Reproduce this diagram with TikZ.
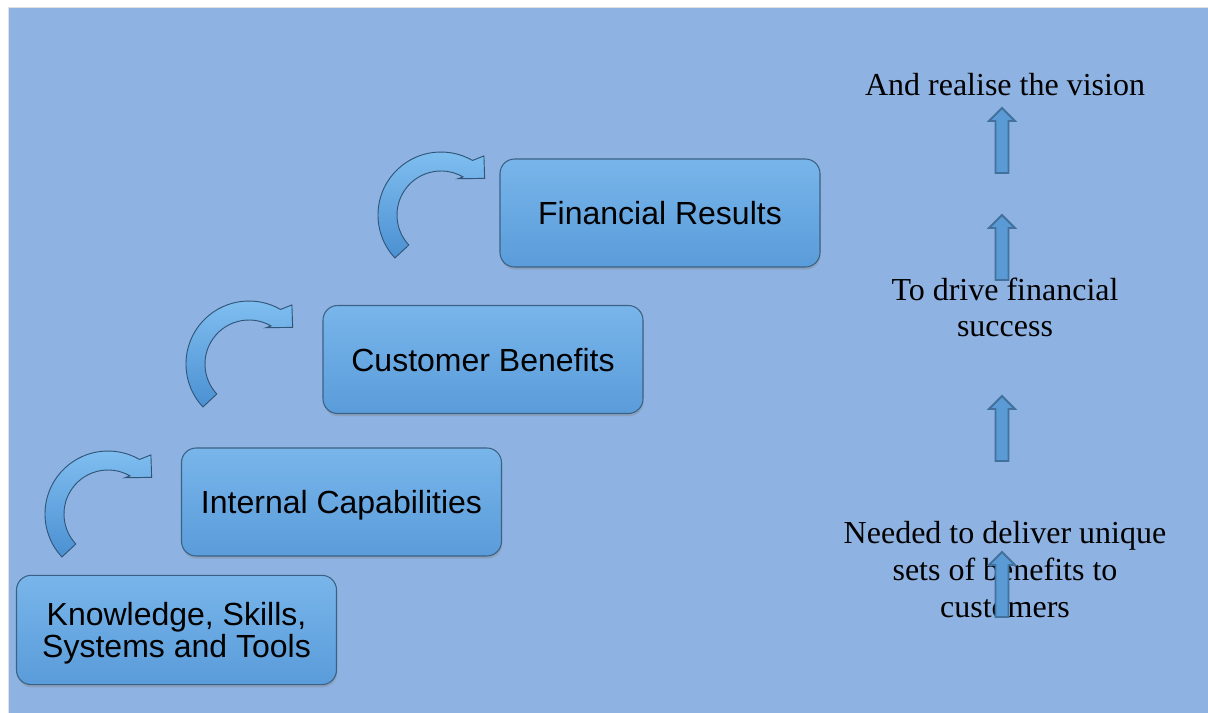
\documentclass[tikz,border=0pt]{standalone}
\usepackage{fontspec}
\setmainfont{Liberation Serif}
\setsansfont{Liberation Sans}
\usetikzlibrary{shadows}

\definecolor{bgblue}{HTML}{8EB2E2}
\definecolor{boxtop}{HTML}{78B5EA}
\definecolor{boxbot}{HTML}{5A9CDA}
\definecolor{boxline}{HTML}{3B6285}
\definecolor{turntop}{HTML}{82C0F1}
\definecolor{turnbot}{HTML}{4B90D2}
\definecolor{turnline}{HTML}{2F5679}
\definecolor{upfill}{HTML}{5B9BD5}
\definecolor{upline}{HTML}{41719C}

\begin{document}
\begin{tikzpicture}[x=0.75pt,y=-0.75pt,
    stage/.style={draw=boxline,line width=0.8pt,rounded corners=11pt,
      top color=boxtop,bottom color=boxbot,
      minimum width=240pt,minimum height=81pt,text depth=0pt,
      align=center,font=\sffamily\fontsize{24}{24}\selectfont,
      drop shadow={shadow xshift=0.5pt,shadow yshift=-2pt,opacity=0.35}},
    note/.style={align=center,anchor=base,font=\fontsize{24}{27.5}\selectfont},
    turn/.style={draw=turnline,line width=0.7pt,top color=turntop,bottom color=turnbot},
    up/.style={draw=upline,line width=1.4pt,fill=upfill}]
    \useasboundingbox (0,0) rectangle (1208,713);
    \fill[bgblue] (8,8) rectangle (1208,713);
    \draw[black!12,line width=0.75pt] (8,713) -- (8,8) -- (1208,8);

    % staircase
    \node[stage] (finance) at (660,213) {Financial Results};
    \node[stage] (customer) at (483,359.5) {Customer Benefits};
    \node[stage] (internal) at (341.5,502) {Internal Capabilities};
    \node[stage,minimum height=82pt] (knowledge) at (176.5,630) {Knowledge, Skills,\\Systems and Tools};

    % turning arrows
    \coordinate (t1) at (108,514);
    \coordinate (t2) at (249,364);
    \coordinate (t3) at (441,215);
    \foreach \c in {t1,t2,t3}
      \draw[turn,shift={(\c)}] (137:63) arc[start angle=137,end angle=300,radius=63]
        -- (306:73) -- (320:57) -- (295:40) -- (300:44)
        arc[start angle=300,end angle=137,radius=44] -- cycle;

    % right column (base = last line)
    \node[note] (vision) at (1005,96) {And realise the vision};
    \node[note] (drive) at (1005,337) {To drive financial\\success};
    \node[note] (deliver) at (1005,617) {Needed to deliver unique\\sets of benefits to\\customers};
    \foreach \t in {108,215,396,552}
      \draw[up] (1002,\t) -- (1015,\t+13) -- (1008.5,\t+13) -- (1008.5,\t+65)
        -- (995.5,\t+65) -- (995.5,\t+13) -- (989,\t+13) -- cycle;
\end{tikzpicture}
\end{document}
